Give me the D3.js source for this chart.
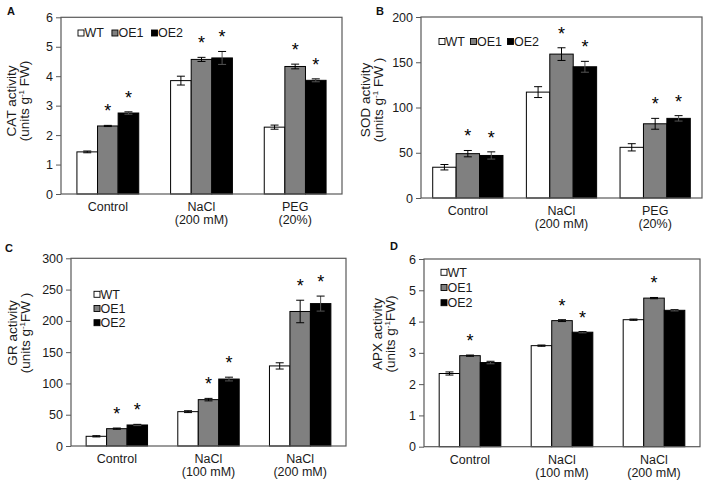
<!DOCTYPE html>
<html><head><meta charset="utf-8">
<script src="https://cdn.jsdelivr.net/npm/d3@7"></script>
<style>
body{margin:0;background:#fff}
svg{display:block}
text{font-family:"Liberation Sans",Arial,Helvetica,sans-serif}
</style>
</head><body>
<svg id="chart" width="708" height="483"></svg>
<script>
// ---------- DATA ----------
const seriesNames = ["WT", "OE1", "OE2"];
const seriesColors = ["#ffffff", "#808080", "#000000"];

// Panel A: CAT
const catCategories = [["Control"], ["NaCl", "(200 mM)"], ["PEG", "(20%)"]];
const catMeans  = [[1.43, 3.85, 2.27], [2.31, 4.57, 4.33], [2.75, 4.62, 3.86]];
const catErrors = [[0.03, 0.15, 0.07], [0.02, 0.07, 0.08], [0.04, 0.22, 0.05]];
const catStars  = [[0, 0, 0], [1, 1, 1], [1, 1, 1]];
const catTicks  = [0, 1, 2, 3, 4, 5, 6];

// Panel B: SOD
const sodCategories = [["Control"], ["NaCl", "(200 mM)"], ["PEG", "(20%)"]];
const sodMeans  = [[34, 117, 56], [49, 159, 82], [47, 145, 88]];
const sodErrors = [[3, 6, 4], [3.5, 7, 6], [4, 6, 3]];
const sodStars  = [[0, 0, 0], [1, 1, 1], [1, 1, 1]];
const sodTicks  = [0, 50, 100, 150, 200];

// Panel C: GR
const grCategories = [["Control"], ["NaCl", "(100 mM)"], ["NaCl", "(200 mM)"]];
const grMeans  = [[15.5, 54.9, 128], [27.7, 74.1, 215], [33.6, 107, 227.6]];
const grErrors = [[1, 1.5, 5], [1, 2, 18], [1, 3, 12]];
const grStars  = [[0, 0, 0], [1, 1, 1], [1, 1, 1]];
const grTicks  = [0, 50, 100, 150, 200, 250, 300];

// Panel D: APX
const apxCategories = [["Control"], ["NaCl", "(100 mM)"], ["NaCl", "(200 mM)"]];
const apxMeans  = [[2.34, 3.23, 4.06], [2.91, 4.03, 4.75], [2.69, 3.66, 4.36]];
const apxErrors = [[0.05, 0.02, 0.02], [0.02, 0.03, 0.02], [0.04, 0.02, 0.02]];
const apxStars  = [[0, 0, 0], [1, 1, 1], [0, 1, 0]];
const apxTicks  = [0, 1, 2, 3, 4, 5, 6];

// ---------- LAYOUT ----------
const panels = [
  {label: "A", lx: 7, ly: 15, x0: 61, x1: 342, y0: 17.3, y1: 194, pad: 0.34,
   cats: catCategories, means: catMeans, errs: catErrors, stars: catStars, ticks: catTicks,
   t1: "CAT activity", t2a: "(units g", t2b: " FW)", tx1: 16, tx2: 29, ty: 101,
   legend: "h", legX: 78, legY: 33, legGap: 8},
  {label: "B", lx: 376, ly: 15, x0: 421, x1: 702, y0: 17, y1: 198, pad: 0.25,
   cats: sodCategories, means: sodMeans, errs: sodErrors, stars: sodStars, ticks: sodTicks,
   t1: "SOD activity", t2a: "(units g", t2b: " FW )", tx1: 370, tx2: 383, ty: 100,
   legend: "h", legX: 439, legY: 41.5, legGap: 5.5},
  {label: "C", lx: 5, ly: 252, x0: 71, x1: 346, y0: 258.3, y1: 446, pad: 0.33,
   cats: grCategories, means: grMeans, errs: grErrors, stars: grStars, ticks: grTicks,
   t1: "GR activity", t2a: "(units g", t2b: "FW )", tx1: 17, tx2: 30, ty: 333,
   legend: "v", legX: 94, legY: 294.3, legStep: 14.2},
  {label: "D", lx: 390, ly: 249.5, x0: 424, x1: 700, y0: 259, y1: 446.7, pad: 0.33,
   cats: apxCategories, means: apxMeans, errs: apxErrors, stars: apxStars, ticks: apxTicks,
   t1: "APX activity", t2a: "(units g", t2b: "FW)", tx1: 382, tx2: 395, ty: 334,
   legend: "v", legX: 441, legY: 272.3, legStep: 15.2}
];

const svg = d3.select("#chart");

panels.forEach(p => {
  const g = svg.append("g");
  const nCat = p.cats.length;
  const x = d3.scaleBand().domain(d3.range(nCat)).range([p.x0, p.x1])
    .paddingInner(p.pad).paddingOuter(p.pad / 2);
  const xs = d3.scaleBand().domain(d3.range(seriesNames.length)).range([0, x.bandwidth()]);
  const yMax = p.ticks[p.ticks.length - 1];
  const y = d3.scaleLinear().domain([0, yMax]).range([p.y1, p.y0]);

  // panel label
  g.append("text").attr("x", p.lx).attr("y", p.ly).attr("font-size", 11)
    .attr("font-weight", "bold").attr("fill", "#111").text(p.label);

  // y axis
  const ax = g.append("g").attr("transform", `translate(${p.x0},0)`)
    .call(d3.axisLeft(y).tickValues(p.ticks).tickSize(5).tickPadding(3).tickFormat(d3.format("d")));
  ax.select(".domain").remove();
  ax.selectAll(".tick line").attr("stroke", "#595959");
  ax.selectAll(".tick text").attr("font-size", 12.5).attr("fill", "#1a1a1a")
    .style("font-family", '"Liberation Sans",Arial,sans-serif');

  // bars
  seriesNames.forEach((s, si) => {
    const gs = g.append("g");
    gs.selectAll("rect").data(p.means[si]).join("rect")
      .attr("x", (d, ci) => x(ci) + xs(si))
      .attr("y", d => y(d))
      .attr("width", xs.bandwidth())
      .attr("height", d => y(0) - y(d))
      .attr("fill", seriesColors[si])
      .attr("stroke", "#000").attr("stroke-width", 1);

    // error bars
    p.means[si].forEach((v, ci) => {
      const e = p.errs[si][ci];
      const cx = x(ci) + xs(si) + xs.bandwidth() / 2;
      const eb = g.append("g").attr("stroke", si === 2 ? "#555" : "#000").attr("stroke-width", 1);
      eb.append("line").attr("x1", cx).attr("x2", cx).attr("y1", y(v - e)).attr("y2", y(v + e));
      eb.append("line").attr("x1", cx - 4).attr("x2", cx + 4).attr("y1", y(v + e)).attr("y2", y(v + e)).attr("stroke", "#000");
      eb.append("line").attr("x1", cx - 4).attr("x2", cx + 4).attr("y1", y(v - e)).attr("y2", y(v - e));
      if (p.stars[si][ci]) {
        g.append("text").attr("x", cx).attr("y", y(v + e) - 18 + 10)
          .attr("text-anchor", "middle").attr("font-size", 18).attr("fill", "#000").text("*");
      }
    });
  });

  // plot box
  g.append("rect").attr("x", p.x0).attr("y", p.y0)
    .attr("width", p.x1 - p.x0).attr("height", p.y1 - p.y0)
    .attr("fill", "none").attr("stroke", "#595959").attr("stroke-width", 1.2);

  // category labels
  p.cats.forEach((lines, ci) => {
    const cx = x(ci) + x.bandwidth() / 2;
    lines.forEach((ln, li) => {
      g.append("text").attr("x", cx).attr("y", p.y1 + 17 + li * 12.8)
        .attr("text-anchor", "middle").attr("font-size", 12.5).attr("fill", "#1a1a1a").text(ln);
    });
  });

  // y titles
  g.append("text").attr("transform", `translate(${p.tx1},${p.ty}) rotate(-90)`)
    .attr("text-anchor", "middle").attr("font-size", 13.5).attr("fill", "#1a1a1a").text(p.t1);
  const t2 = g.append("text").attr("transform", `translate(${p.tx2},${p.ty}) rotate(-90)`)
    .attr("text-anchor", "middle").attr("font-size", 13.5).attr("fill", "#1a1a1a");
  t2.append("tspan").text(p.t2a);
  t2.append("tspan").attr("font-size", 8).attr("dy", -5).text("-1");
  t2.append("tspan").attr("dy", 5).text(p.t2b);

  // legend
  let cursor = p.legX;
  seriesNames.forEach((s, si) => {
    const lx = p.legend === "h" ? cursor : p.legX;
    const ly = p.legend === "h" ? p.legY : p.legY + si * p.legStep;
    g.append("rect").attr("x", lx).attr("y", ly - 3).attr("width", 6).attr("height", 6)
      .attr("fill", seriesColors[si]).attr("stroke", "#000").attr("stroke-width", 0.9);
    const t = g.append("text").attr("x", lx + 6.5).attr("y", ly + 4.4)
      .attr("font-size", 12.5).attr("fill", "#1a1a1a").text(s);
    if (p.legend === "h") cursor = lx + 6.5 + t.node().getComputedTextLength() + p.legGap;
  });
});
</script>
</body></html>
